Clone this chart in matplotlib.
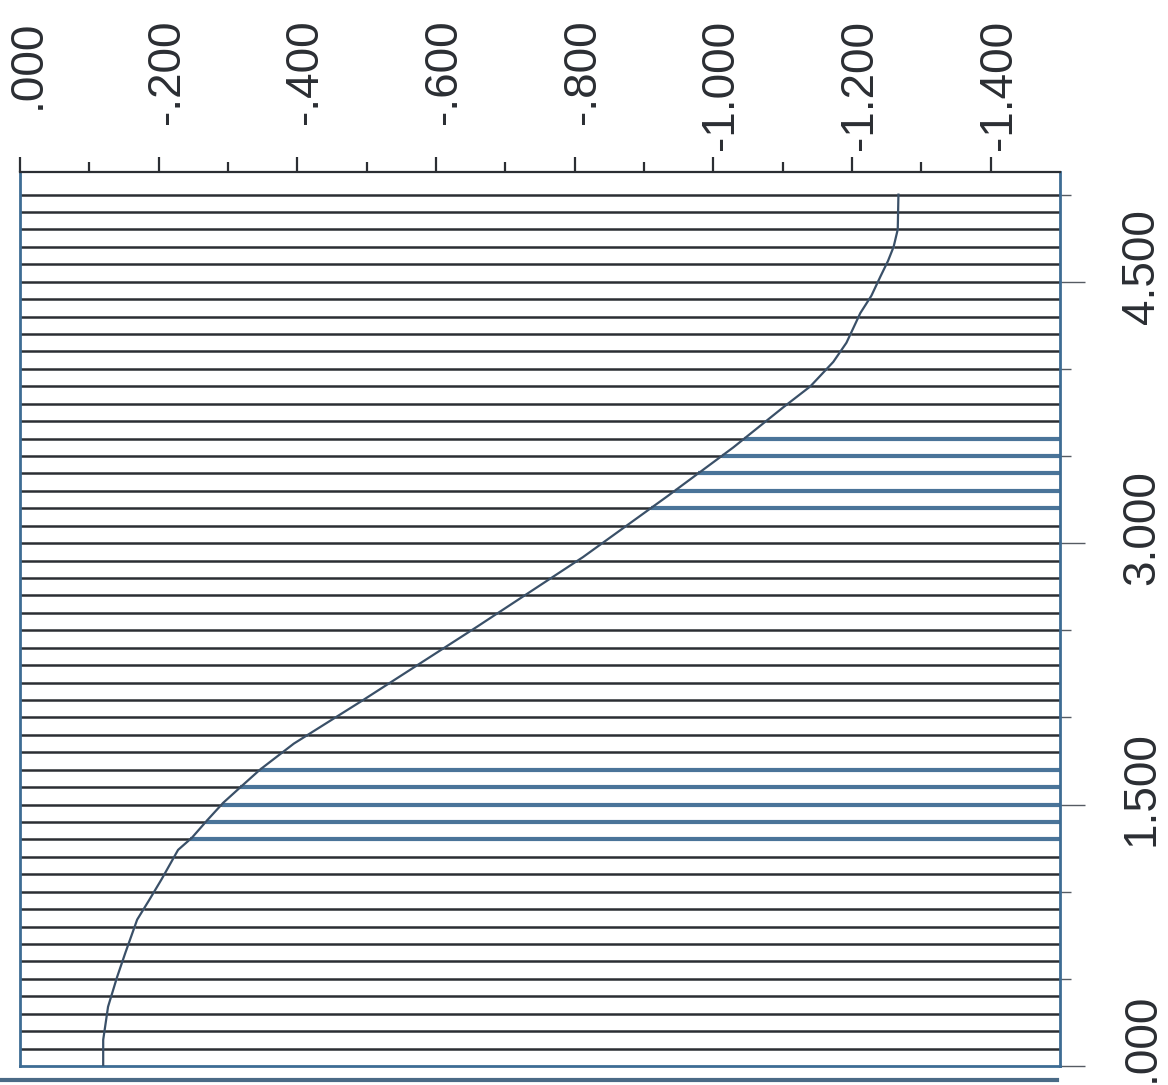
import numpy as np
import matplotlib
matplotlib.use("Agg")
import matplotlib.pyplot as plt
from matplotlib.transforms import blended_transform_factory, ScaledTranslation
from matplotlib.lines import Line2D

curve_t = [0.0, 0.15, 0.34, 0.51, 0.65, 0.84, 0.95, 1.07, 1.24, 1.31, 1.41, 1.51,
           1.60, 1.70, 1.85, 2.10, 2.52, 2.92, 3.27, 3.55, 3.78, 3.90, 4.04, 4.15,
           4.32, 4.42, 4.53, 4.62, 4.70, 4.80, 5.0]
curve_x = [-0.120, -0.120, -0.127, -0.140, -0.152, -0.169, -0.186, -0.204, -0.228,
           -0.248, -0.270, -0.293, -0.318, -0.346, -0.395, -0.495, -0.659, -0.812,
           -0.934, -1.029, -1.101, -1.140, -1.173, -1.192, -1.212, -1.228, -1.241,
           -1.252, -1.260, -1.266, -1.267]

# horizontal rules every 0.1, some printed in blue right of the curve
rule_levels = [round(0.1 * i, 1) for i in range(1, 51)]
blue_levels = [1.3, 1.4, 1.5, 1.6, 1.7, 3.2, 3.3, 3.4, 3.5, 3.6]

top_ticks = [0.0, -0.2, -0.4, -0.6, -0.8, -1.0, -1.2, -1.4]
top_labels = [".000", "-.200", "-.400", "-.600", "-.800", "-1.000", "-1.200", "-1.400"]
right_ticks = [0.0, 1.5, 3.0, 4.5]
right_labels = [".000", "1.500", "3.000", "4.500"]

lab_font, lab_size = "Liberation Sans", 33
ink = "#2b2e33"
blue = "#3d6c94"

fig = plt.figure(figsize=(11.68, 10.85), dpi=100)
ax = fig.add_axes([0.01712, 0.01751, 0.8904, 0.8240])
ax.set_xlim(0, -1.5)
ax.set_ylim(0, 5.13)

# rules: left part up to the curve, right part from the curve
cross = np.interp(rule_levels, curve_t, curve_x)
for lev, cx in zip(rule_levels, cross):
    ax.hlines(lev, 0, cx, color=ink, lw=1.8, zorder=2)
    if lev in blue_levels:
        ax.hlines(lev, cx, -1.5, color="#4a7499", lw=3.0, zorder=2)
    else:
        ax.hlines(lev, cx, -1.5, color=ink, lw=1.8, zorder=2)

ax.plot(curve_x, curve_t, color="#3a5068", lw=1.6, zorder=3)

for side in ["left", "right", "bottom"]:
    ax.spines[side].set_color(blue)
    ax.spines[side].set_linewidth(2.0)
ax.spines["top"].set_color(ink)
ax.spines["top"].set_linewidth(1.6)

ax.xaxis.tick_top()
ax.set_xticks(top_ticks)
ax.set_xticks(np.arange(0, -1.45, -0.1), minor=True)
ax.tick_params(axis="x", which="major", direction="out", length=11, width=1.6,
               color=ink, labeltop=False, labelbottom=False)
ax.tick_params(axis="x", which="minor", direction="out", length=7, width=1.6, color=ink)

ax.yaxis.tick_right()
ax.set_yticks(right_ticks)
ax.set_yticks(np.arange(0, 5.05, 0.5), minor=True)
ax.tick_params(axis="y", which="major", direction="out", length=18, width=1.0,
               color="#555b62", labelright=False, labelleft=False)
ax.tick_params(axis="y", which="minor", direction="out", length=8, width=1.0, color="#555b62")

# labels, rotated like the scan, aligned at their far end
tr_top = blended_transform_factory(ax.transData, fig.transFigure) + \
    ScaledTranslation(0.08, 0, fig.dpi_scale_trans)
for v, s in zip(top_ticks, top_labels):
    fig.text(v, 0.982, s, transform=tr_top, rotation=90, ha="center", va="top",
             family=lab_font, fontsize=lab_size, color=ink)

tr_right = blended_transform_factory(fig.transFigure, ax.transData) + \
    ScaledTranslation(0, 0.73, fig.dpi_scale_trans)
for v, s in zip(right_ticks, right_labels):
    fig.text(0.9777, v, s, transform=tr_right, rotation=90, ha="center", va="top",
             family=lab_font, fontsize=lab_size, color=ink)

# edge of the printed page at the bottom of the scan
fig.add_artist(Line2D([0, 0.905], [0.0046, 0.0046], transform=fig.transFigure,
                      color="#4a6a86", lw=3.0))

fig.savefig("out.png", dpi=100, facecolor="white")
